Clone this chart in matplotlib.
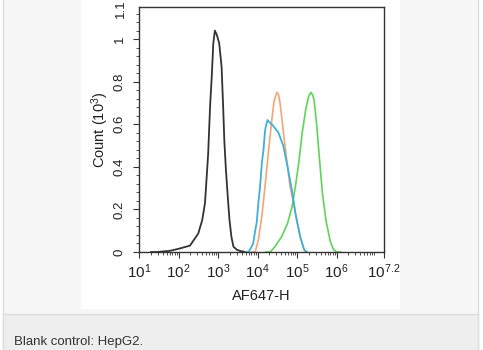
import numpy as np
import matplotlib
matplotlib.use("Agg")
import matplotlib.pyplot as plt
from matplotlib.patches import Rectangle
from matplotlib.ticker import FixedLocator, LogLocator, NullFormatter, MultipleLocator

plt.rcParams['font.family'] = ['Liberation Sans', 'DejaVu Sans']
plt.rcParams['mathtext.fontset'] = 'custom'
plt.rcParams['mathtext.rm'] = 'Liberation Sans'
plt.rcParams['mathtext.it'] = 'Liberation Sans:italic'

# Histogram traces: channel position in decades (log10 AF647-H) and count (x10^3)
blank_dec = [1.30, 1.45, 1.80, 2.04, 2.29, 2.50, 2.60, 2.67, 2.75, 2.80, 2.84,
             2.88, 2.92, 2.97, 3.03, 3.09, 3.13, 3.16, 3.20, 3.25, 3.29, 3.34,
             3.39, 3.48, 3.56, 3.70]
blank_cnt = [0.0, 0.0, 0.006, 0.017, 0.03, 0.087, 0.15, 0.23, 0.46, 0.69, 0.82,
             0.98, 1.04, 1.02, 0.98, 0.87, 0.68, 0.52, 0.385, 0.25, 0.15, 0.07,
             0.025, 0.01, 0.005, 0.0]

blue_dec = [3.70, 3.77, 3.85, 3.89, 3.94, 3.98, 4.02, 4.06, 4.11, 4.15, 4.19,
            4.21, 4.25, 4.30, 4.36, 4.45, 4.53, 4.65, 4.76, 4.87, 4.96, 5.08,
            5.18, 5.25]
blue_cnt = [0.0, 0.0, 0.025, 0.04, 0.10, 0.14, 0.23, 0.30, 0.42, 0.48, 0.57,
            0.59, 0.62, 0.61, 0.60, 0.58, 0.56, 0.50, 0.40, 0.29, 0.18, 0.072,
            0.01, 0.0]

orange_dec = [3.85, 3.94, 4.02, 4.11, 4.19, 4.27, 4.36, 4.42, 4.49, 4.53, 4.57,
              4.65, 4.74, 4.82, 4.91, 4.99, 5.08, 5.16, 5.22]
orange_cnt = [0.0, 0.0, 0.056, 0.17, 0.31, 0.46, 0.62, 0.71, 0.75, 0.74, 0.70,
              0.57, 0.43, 0.31, 0.23, 0.15, 0.07, 0.02, 0.0]

green_dec = [4.20, 4.32, 4.44, 4.61, 4.76, 4.87, 4.96, 5.05, 5.13, 5.22, 5.29,
             5.35, 5.39, 5.43, 5.50, 5.57, 5.64, 5.73, 5.84, 5.92, 6.00, 6.10]
green_cnt = [0.0, 0.0, 0.025, 0.072, 0.135, 0.21, 0.31, 0.43, 0.56, 0.67, 0.73,
             0.75, 0.74, 0.715, 0.59, 0.43, 0.28, 0.15, 0.05, 0.012, 0.0, 0.0]

xtick_dec = [1, 2, 3, 4, 5, 6, 7.2]
xtick_labels = [r'$\mathregular{10^{1}}$', r'$\mathregular{10^{2}}$',
                r'$\mathregular{10^{3}}$', r'$\mathregular{10^{4}}$',
                r'$\mathregular{10^{5}}$', r'$\mathregular{10^{6}}$',
                r'$\mathregular{10^{7.2}}$']
ytick_vals = [0, 0.2, 0.4, 0.6, 0.8, 1.0]
ytick_labels = ['0', '0.2', '0.4', '0.6', '0.8', '1']

W, H = 483, 350
fig = plt.figure(figsize=(W / 100, H / 100), dpi=100)
fig.patch.set_facecolor('white')


def px_rect(x0, y0, x1, y1, **kw):
    # rectangle given in pixel coordinates measured from the top-left corner
    fig.patches.append(Rectangle((x0 / W, 1 - y1 / H), (x1 - x0) / W, (y1 - y0) / H,
                                 transform=fig.transFigure, figure=fig, zorder=-5, **kw))


# page panel, caption band and white plot card
px_rect(3, -2, 478, 352, facecolor='#f7f7f7', edgecolor='#dddddd', linewidth=1)
px_rect(3, 314, 478, 352, facecolor='#eeeeee', edgecolor='#dddddd', linewidth=1)
px_rect(81, -2, 400, 309, facecolor='white', edgecolor='none')

ax = fig.add_axes([139 / W, 1 - 252 / H, 245 / W, 245 / H])
ax.set_facecolor('white')

ax.plot(10 ** np.array(blank_dec), blank_cnt, color='#333333', lw=1.3)
ax.plot(10 ** np.array(orange_dec), orange_cnt, color='#f2a675', lw=1.2)
ax.plot(10 ** np.array(green_dec), green_cnt, color='#5ed45a', lw=1.2)
ax.plot(10 ** np.array(blue_dec), blue_cnt, color='#3fb0d6', lw=1.3)

ax.set_xscale('log')
ax.set_xlim(10 ** 1, 10 ** 7.2)
ax.set_ylim(0, 1.151)

ax.xaxis.set_major_locator(FixedLocator([10 ** d for d in xtick_dec]))
ax.set_xticklabels(xtick_labels)
ax.xaxis.set_minor_locator(LogLocator(base=10, subs=np.arange(2, 10), numticks=20))
ax.xaxis.set_minor_formatter(NullFormatter())

ax.set_yticks(ytick_vals)
ax.set_yticklabels(ytick_labels)
ax.yaxis.set_minor_locator(MultipleLocator(0.04))

for s in ax.spines.values():
    s.set_color('#333333')
    s.set_linewidth(1.0)

ax.tick_params(axis='both', which='major', direction='out', length=4.5, width=0.8,
               color='#333333', labelcolor='#222222')
ax.tick_params(axis='both', which='minor', direction='out', length=2.2, width=0.6,
               color='#333333')
ax.tick_params(axis='x', which='major', labelsize=11, pad=3)
ax.tick_params(axis='y', which='major', labelsize=9.5, pad=5, labelrotation=90)
for lab in ax.get_yticklabels():
    lab.set_va('center')

# top label of the count axis sits at the upper edge of the frame
ax.text(-0.075, 0.995, '1.1', transform=ax.transAxes, rotation=90, fontsize=9.5,
        color='#222222', ha='center', va='center')

ax.set_xlabel('AF647-H', fontsize=10.5, color='#222222', labelpad=6)
ax.set_ylabel(r'Count ($\mathregular{10^{3}}$)', fontsize=10.5, color='#222222', labelpad=2)

fig.text(14 / W, 1 - 345 / H, 'Blank control: HepG2.', fontsize=9.5,
         color='#333333', ha='left', va='baseline')

fig.savefig('out.png', dpi=100, facecolor=fig.get_facecolor())
